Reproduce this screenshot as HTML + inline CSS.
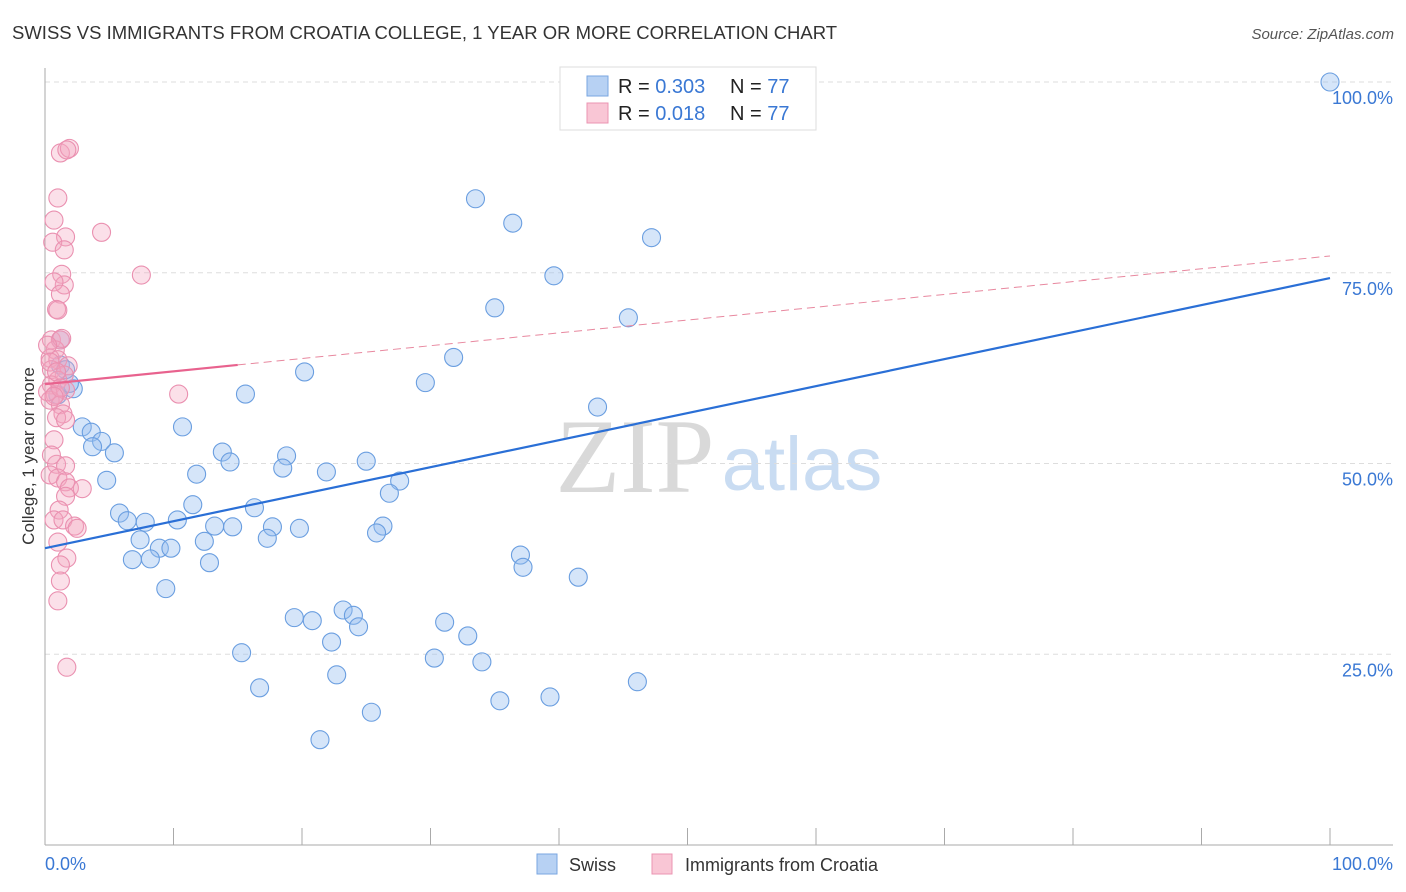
<!DOCTYPE html>
<html><head><meta charset="utf-8"><style>
body{margin:0;background:#fff;font-family:"Liberation Sans",sans-serif;}
#wrap{position:relative;width:1406px;height:892px;overflow:hidden;}
</style></head><body>
<div id="wrap">
<svg id="svg" width="1406" height="892" xmlns="http://www.w3.org/2000/svg">
<text x="12" y="39" font-size="18.5" fill="#333">SWISS VS IMMIGRANTS FROM CROATIA COLLEGE, 1 YEAR OR MORE CORRELATION CHART</text>
<text x="1394" y="39" font-size="15" fill="#555" font-style="italic" text-anchor="end">Source: ZipAtlas.com</text>
<text x="635" y="492" font-size="106" fill="#d9d9d9" font-family="Liberation Serif,serif" text-anchor="middle">ZIP</text>
<text x="802" y="490" font-size="76" fill="#c9dcf2" text-anchor="middle">atlas</text>
<g id="grid"></g><g id="axes"></g><g id="marks"></g>
<text transform="translate(34,456) rotate(-90)" font-size="17" fill="#333" text-anchor="middle">College, 1 year or more</text>
<text x="45" y="870" font-size="18" fill="#3a78d4">0.0%</text>
<text x="1393" y="870" font-size="18" fill="#3a78d4" text-anchor="end">100.0%</text>
<g>
<rect x="560" y="67" width="256" height="63" fill="#fff" stroke="#ddd"/>
<rect x="587" y="76" width="21" height="20" fill="#b7d1f3" stroke="#7aa6e0"/>
<rect x="587" y="103" width="21" height="20" fill="#f9c6d5" stroke="#eb94b2"/>
<text x="618" y="93" font-size="20" fill="#222">R = <tspan fill="#3a78d4">0.303</tspan></text>
<text x="730" y="93" font-size="20" fill="#222">N = <tspan fill="#3a78d4">77</tspan></text>
<text x="618" y="120" font-size="20" fill="#222">R = <tspan fill="#3a78d4"> 0.018</tspan></text>
<text x="730" y="120" font-size="20" fill="#222">N = <tspan fill="#3a78d4">77</tspan></text>
</g>
<g>
<rect x="537" y="854" width="20" height="20" fill="#b7d1f3" stroke="#7aa6e0"/>
<text x="569" y="871" font-size="18" fill="#333">Swiss</text>
<rect x="652" y="854" width="20" height="20" fill="#f9c6d5" stroke="#eb94b2"/>
<text x="685" y="871" font-size="18" fill="#333">Immigrants from Croatia</text>
</g>
</svg>
</div>
<script>
const yTicks=[25,50,75,100];
const yTickLabels=["25.0%","50.0%","75.0%","100.0%"];
const xTicks=[0,10,20,30,40,50,60,70,80,90,100];
const swissX=[100,49.9,51.4,33.5,36.4,47.2,39.6,35.0,45.4,31.8,20.2,29.6,43.0,15.6,2.2,1.0,1.9,1.2,2.9,3.6,4.4,3.7,5.4,4.8,10.7,13.8,14.4,11.8,18.8,18.5,21.9,25.0,27.6,26.8,5.8,6.4,7.8,10.3,11.5,16.3,13.2,14.6,17.7,19.8,17.3,7.4,8.9,9.8,12.4,6.8,8.2,12.8,9.4,26.3,25.8,37.0,37.2,41.5,19.4,20.8,23.2,24.0,24.4,22.3,31.1,32.9,30.3,34.0,15.3,22.7,16.7,39.3,35.4,46.1,25.4,21.4,1.2,1.6];
const swissY=[100,100.3,100,84.7,81.5,79.6,74.6,70.4,69.1,63.9,62.0,60.6,57.4,59.1,59.8,59.0,60.5,66.2,54.8,54.1,52.9,52.2,51.4,47.8,54.8,51.5,50.2,48.6,51.0,49.4,48.9,50.3,47.7,46.1,43.5,42.5,42.3,42.6,44.6,44.2,41.8,41.7,41.7,41.5,40.2,40.0,38.9,38.9,39.8,37.4,37.5,37.0,33.6,41.8,40.9,38.0,36.4,35.1,29.8,29.4,30.8,30.1,28.6,26.6,29.2,27.4,24.5,24.0,25.2,22.3,20.6,19.4,18.9,21.4,17.4,13.8,62.9,62.3];
const croX=[1.2,1.9,1.7,1.0,0.7,4.4,1.6,0.6,1.5,7.5,1.3,1.5,0.7,1.2,0.9,1.0,0.5,1.2,0.8,1.3,0.4,1.0,1.8,0.5,1.5,1.0,0.5,0.8,1.6,0.4,1.2,1.4,0.9,1.6,10.4,0.7,0.9,1.6,0.4,1.0,1.6,1.9,2.9,1.6,1.1,0.7,1.4,2.3,2.5,1.0,1.7,1.2,1.2,1.0,1.7,0.2,0.4,0.9,0.2,1.2,0.7,0.5];
const croY=[90.7,91.3,91.1,84.8,81.9,80.3,79.7,79.0,78.0,74.7,74.8,73.4,73.8,72.2,70.2,70.1,66.2,66.2,64.9,66.4,63.8,63.6,62.8,62.3,61.6,60.9,60.3,59.0,59.6,58.3,57.7,56.5,56.0,55.7,59.1,53.1,49.9,49.7,48.5,48.1,47.6,46.8,46.7,45.7,43.9,42.6,42.6,41.8,41.5,39.7,37.6,36.7,34.6,32.0,23.3,65.5,63.3,62.0,59.4,59.9,58.8,51.1];
const swissTrend=[38.9,74.3];
const croTrend=[60.4,77.2];
const croSolidEnd=15;
const X=v=>45+v*12.85, Y=v=>845-v*7.63;
const NS="http://www.w3.org/2000/svg";
function mk(t,a,p){const e=document.createElementNS(NS,t);for(const k in a)e.setAttribute(k,a[k]);p.appendChild(e);return e;}
const grid=document.getElementById('grid'),axes=document.getElementById('axes'),marks=document.getElementById('marks');
yTicks.forEach((t,i)=>{
 const l=mk('line',{x1:45,x2:1393,y1:Y(t),y2:Y(t),stroke:'#ddd','stroke-dasharray':'5,4'},grid);
 
 
 const tx=mk('text',{x:1393,y:Y(t)+22,'font-size':18,fill:'#3a78d4','text-anchor':'end'},axes);
 tx.textContent=yTickLabels[i];
 
 
});
const ya=mk('line',{x1:45,x2:45,y1:68,y2:845,stroke:'#aaa'},axes);


const xa=mk('line',{x1:45,x2:1393,y1:845,y2:845,stroke:'#aaa'},axes);


xTicks.forEach(t=>{
 const l=mk('line',{x1:X(t),x2:X(t),y1:828,y2:845,stroke:'#aaa'},axes);
 
 
});
swissX.forEach((x,i)=>{
 const c=mk('circle',{cx:X(x),cy:Y(swissY[i]),r:9,fill:'rgba(150,190,240,0.4)',stroke:'#6a9ee0','stroke-width':1.1},marks);
 
 
});
croX.forEach((x,i)=>{
 const c=mk('circle',{cx:X(x),cy:Y(croY[i]),r:9,fill:'rgba(244,165,192,0.35)',stroke:'#ea90b0','stroke-width':1.1},marks);
 
 
});
const bl=mk('line',{x1:X(0),y1:Y(swissTrend[0]),x2:X(100),y2:Y(swissTrend[1]),stroke:'#2a6fd6','stroke-width':2.2},marks);


const cy=v=>croTrend[0]+(croTrend[1]-croTrend[0])*v/100;
const pl=mk('line',{x1:X(0),y1:Y(croTrend[0]),x2:X(croSolidEnd),y2:Y(cy(croSolidEnd)),stroke:'#e8628e','stroke-width':2.2},marks);


const pd=mk('line',{x1:X(croSolidEnd),y1:Y(cy(croSolidEnd)),x2:X(100),y2:Y(croTrend[1]),stroke:'#e8889f','stroke-width':1,'stroke-dasharray':'8,5'},marks);


</script>
</body></html>
